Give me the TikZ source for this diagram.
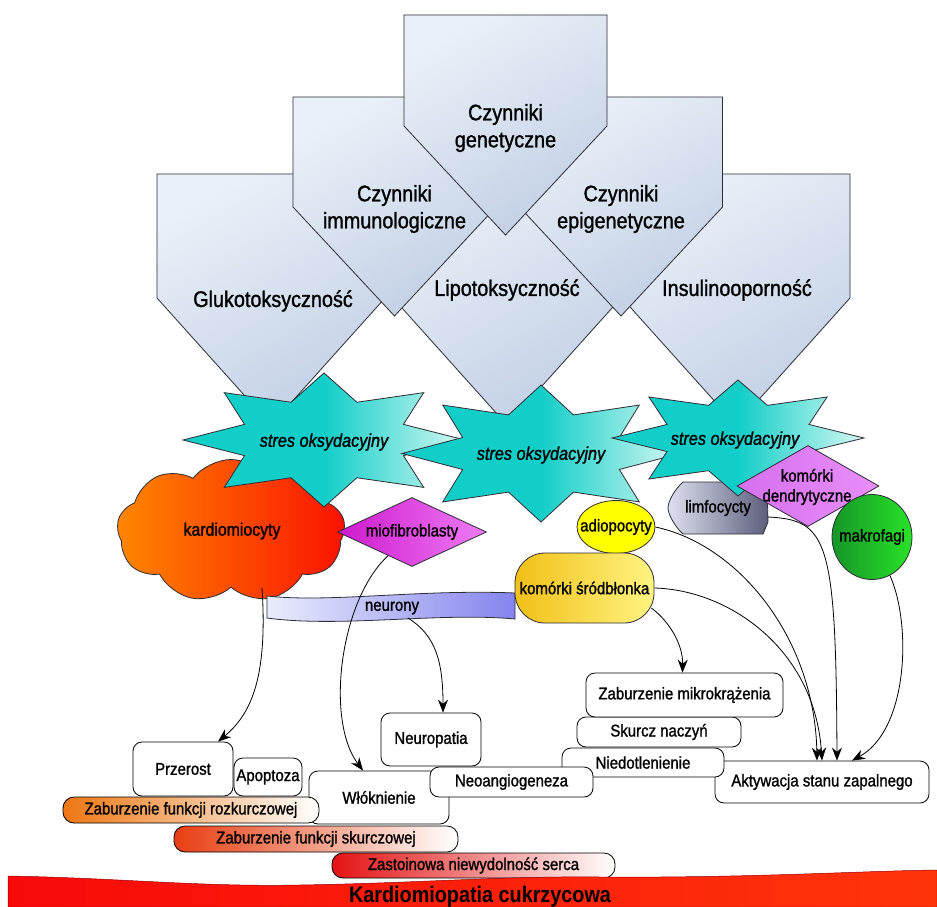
\documentclass[tikz,border=0pt]{standalone}
\usepackage{fontspec}
\setmainfont[FakeStretch=0.88, UprightFeatures={FakeBold=1.2}, ItalicFeatures={FakeBold=1.2}]{Liberation Sans}
\usetikzlibrary{shapes.geometric,shapes.symbols,arrows.meta,calc}

\definecolor{pentLight}{RGB}{234,240,248}
\definecolor{pentDark}{RGB}{194,208,229}
\definecolor{edgeGray}{RGB}{45,45,55}
\definecolor{turq}{RGB}{18,206,200}
\definecolor{turqPale}{RGB}{214,248,242}
\definecolor{cardioA}{RGB}{255,135,0}
\definecolor{cardioB}{RGB}{250,18,0}
\definecolor{mioA}{RGB}{205,25,205}
\definecolor{mioB}{RGB}{238,125,244}
\definecolor{neurA}{RGB}{234,237,252}
\definecolor{neurB}{RGB}{132,132,238}
\definecolor{adipo}{RGB}{255,255,0}
\definecolor{endoA}{RGB}{242,192,24}
\definecolor{endoB}{RGB}{255,244,130}
\definecolor{limfA}{RGB}{222,224,240}
\definecolor{limfB}{RGB}{92,94,124}
\definecolor{dendA}{RGB}{214,112,238}
\definecolor{dendB}{RGB}{232,142,250}
\definecolor{makroA}{RGB}{22,150,40}
\definecolor{makroB}{RGB}{40,226,40}
\definecolor{rozkA}{RGB}{238,118,18}
\definecolor{skurA}{RGB}{232,62,18}
\definecolor{zastA}{RGB}{228,18,18}
\definecolor{barA}{RGB}{248,10,10}
\definecolor{barB}{RGB}{255,52,10}

% downward pointing pentagon: centre x, top, shoulder, tip, half width
\newcommand\pentpath[5]{%
  \path[pent] (#1-#5,#2) -- (#1+#5,#2) -- (#1+#5,#3) -- (#1,#4) -- (#1-#5,#3) -- cycle;}
% eight-pointed burst: centre x, centre y, horizontal and vertical outer radius
\newcommand\burstpath[4]{%
  \path[burst] plot[samples at={0,...,15}, variable=\k]
    ({#1+(mod(\k,2)==0 ? #3 : 0.61*#3)*cos(90+22.5*\k)},
     {#2+(mod(\k,2)==0 ? #4 : 0.61*#4)*sin(90+22.5*\k)}) -- cycle;}

\begin{document}
\begin{tikzpicture}[x=1pt,y=-1pt,
  outline/.style={draw=edgeGray, line width=0.8pt},
  pent/.style={outline, top color=pentLight, bottom color=pentDark, shading angle=30},
  burst/.style={outline, left color=turq, right color=turqPale, middle color=turq},
  pentlabel/.style={align=center, font=\fontsize{22.5}{27}\selectfont, inner sep=0pt},
  burstlabel/.style={font=\fontsize{18.5}{22}\selectfont\itshape, inner sep=0pt},
  celllabel/.style={font=\fontsize{17}{20}\selectfont, inner sep=0pt, align=center},
  cellshape/.style={outline, inner sep=0pt},
  box/.style={draw=black, line width=0.8pt, fill=white, rounded corners=9pt, inner sep=0pt,
              font=\fontsize{17}{20}\selectfont},
  bar/.style={draw=black, line width=0.8pt, rounded corners=11pt, inner sep=0pt,
              font=\fontsize{17}{20}\selectfont, right color=white},
  link/.style={draw=black, line width=0.8pt, -{Stealth[length=13pt,width=10pt]}},
]
\useasboundingbox (0,0) rectangle (937,907);
\fill[white] (0,0) rectangle (937,907);

% risk factors
\pentpath{271}{174}{298}{425}{114}
\pentpath{507}{174}{298}{425}{114}
\pentpath{736}{174}{298}{425}{114}
\pentpath{394.5}{97}{207}{316}{101.5}
\pentpath{621}{97}{207}{316}{101.5}
\pentpath{505.5}{15}{126}{235}{101.5}

\node[pentlabel] (gen) at (505.5,128) {Czynniki\\genetyczne};
\node[pentlabel] (imm) at (394.5,209) {Czynniki\\immunologiczne};
\node[pentlabel] (epi) at (621,209) {Czynniki\\epigenetyczne};
\node[pentlabel] (glu) at (273,301) {Glukotoksyczność};
\node[pentlabel] (lip) at (507,290) {Lipotoksyczność};
\node[pentlabel] (ins) at (737,290) {Insulinooporność};

% cells lying under the bursts
\node[cellshape, cloud, cloud puffs=9, cloud puff arc=105, aspect=1.6,
      minimum width=228, minimum height=143, left color=cardioA, right color=cardioB]
      (kardio) at (231,531) {};
\node[celllabel, font=\fontsize{18}{20}\selectfont] (kardiotext) at (232,531) {kardiomiocyty};

\path[outline, left color=limfA, right color=limfB]
  (683,482) -- (767,482) -- (768,522) -- (763,534) -- (683,534)
  .. controls (675,527) and (668,514) .. (668,508)
  .. controls (668,501) and (675,489) .. (683,482) -- cycle;
\node[celllabel, minimum width=100, minimum height=52] (limf) at (718,508) {limfocycty};

% oxidative stress bursts
\burstpath{324}{440}{141}{67}
\burstpath{541}{453.5}{139}{68.5}
\burstpath{738}{438}{126}{58}
\node[burstlabel] (st1) at (324,442) {stres oksydacyjny};
\node[burstlabel] (st2) at (541,455) {stres oksydacyjny};
\node[burstlabel] (st3) at (735,440) {stres oksydacyjny};

% remaining cells
\node[cellshape, diamond, minimum width=149, minimum height=69, left color=mioA, right color=mioB]
      (mio) at (412,532) {};
\node[celllabel] (miotext) at (412,532) {miofibroblasty};

\node[cellshape, diamond, minimum width=142, minimum height=81, left color=dendA, right color=dendB]
      (dend) at (808,486) {};
\node[celllabel] (dendtext) at (807,487) {komórki\\dendrytyczne};

\node[cellshape, ellipse, minimum width=80, minimum height=85, left color=makroA, right color=makroB]
      (makro) at (872,537) {};
\node[celllabel] (makrotext) at (872,537) {makrofagi};

\node[cellshape, ellipse, minimum width=78, minimum height=53, fill=adipo]
      (adio) at (616,527) {};
\node[celllabel] (adiotext) at (616,527) {adiopocyty};

\path[outline, left color=neurA, right color=neurB]
  (267,596) .. controls (330,603) and (420,589) .. (515,593) -- (515,619)
  .. controls (440,612) and (340,628) .. (267,618) -- cycle;
\node[celllabel] (neur) at (392,608) {neurony};
\coordinate (neurOut) at (408,618);

\node[cellshape, rounded corners=30pt, minimum width=139, minimum height=70,
      left color=endoA, right color=endoB, celllabel] (endo) at (584.5,588) {komórki śródbłonka};

% consequences
\node[box, minimum width=214, minimum height=42] (aktyw) at (822,782) {Aktywacja stanu zapalnego};
\node[box, minimum width=162, minimum height=29] (niedot) at (643,762.5) {Niedotlenienie};
\node[box, minimum width=164, minimum height=30] (skurcz) at (659,732) {Skurcz naczyń};
\node[box, minimum width=197, minimum height=44] (mikro) at (684.5,695) {Zaburzenie mikrokrążenia};
\node[box, minimum width=100, minimum height=53] (neuro) at (431,739.5) {Neuropatia};
\node[box, minimum width=140, minimum height=53] (wlok) at (379,797.5) {Włóknienie};
\node[box, minimum width=163, minimum height=30] (neoang) at (511.5,782) {Neoangiogeneza};
\node[box, minimum width=100, minimum height=54] (przerost) at (183,769) {Przerost};
\node[box, minimum width=68, minimum height=38] (apopt) at (268,777) {Apoptoza};

\node[bar, left color=rozkA, minimum width=256, minimum height=26] (rozk) at (191,810)
  {Zaburzenie funkcji rozkurczowej};
\node[bar, left color=skurA, minimum width=284, minimum height=26] (skurcz2) at (316,839)
  {Zaburzenie funkcji skurczowej};
\node[bar, left color=zastA, minimum width=283, minimum height=25] (zast) at (473.5,865.5)
  {Zastoinowa niewydolność serca};

% connectors
\draw[link] ($(kardio.south)+(31,0)$) .. controls (268,680) and (250,715) .. ($(przerost.north)+(35,0)$);
\draw[link] ($(mio.south)!0.32!(mio.west)$) .. controls (340,600) and (325,720) .. ($(wlok.north)+(-16,0)$);
\draw[link] (neurOut) .. controls (435,635) and (443,660) .. ($(neuro.north)+(12,0)$);
\draw[link] ($(endo.east)+(-3,20)$) .. controls (670,622) and (683,645) .. ($(mikro.north)+(-2,0)$);
\draw[link] (adio.east) .. controls (740,545) and (815,640) .. ($(aktyw.north)+(-5,0)$);
\draw[link] (endo.east) .. controls (730,590) and (815,650) .. (aktyw.north);
\draw[link] ($(limf.east)+(0,9)$) .. controls (828,520) and (836,540) .. ($(aktyw.north)+(15,0)$);
\draw[link] (makro.-65) .. controls (912,625) and (908,730) .. ($(aktyw.north)+(30,0)$);

% final outcome
\path[left color=barA, right color=barB, draw=red!60!black, line width=0.5pt]
  (8,876) .. controls (120,878) and (200,887) .. (300,885)
  .. controls (420,883) and (500,876) .. (600,877)
  .. controls (750,878) and (860,871) .. (937,870) -- (937,907) -- (8,907) -- cycle;
\node[font=\fontsize{22.5}{26}\selectfont\bfseries, anchor=base, inner sep=0pt] (kcm) at (480,902)
  {Kardiomiopatia cukrzycowa};
\end{tikzpicture}
\end{document}
